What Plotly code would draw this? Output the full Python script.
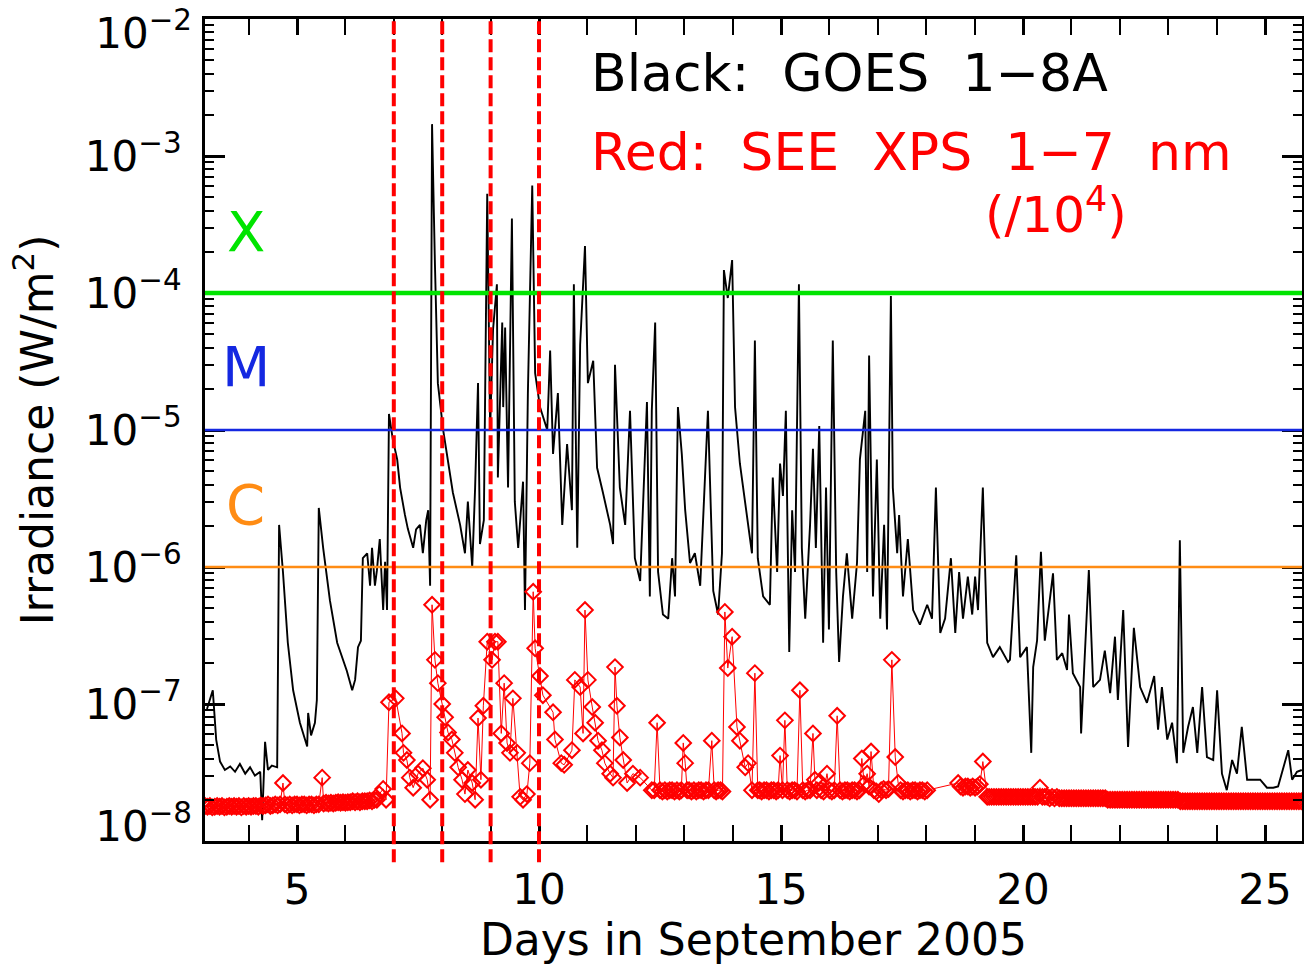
import plotly.graph_objects as go

# ---------------- data ----------------
goes_days = [
    3.14, 3.26, 3.33, 3.41, 3.51, 3.62, 3.72, 3.82, 3.93, 4.03,
    4.13, 4.24, 4.28, 4.32, 4.34, 4.40, 4.48, 4.59, 4.63, 4.71,
    4.81, 4.92, 5.06, 5.21, 5.23, 5.29, 5.37, 5.41, 5.45, 5.54,
    5.68, 5.83, 6.03, 6.14, 6.20, 6.26, 6.32, 6.36, 6.45, 6.51,
    6.55, 6.61, 6.65, 6.71, 6.78, 6.82, 6.86, 6.90, 6.98, 7.07,
    7.13, 7.23, 7.29, 7.40, 7.46, 7.54, 7.60, 7.67, 7.71, 7.75,
    7.79, 7.85, 7.91, 8.02, 8.12, 8.22, 8.37, 8.47, 8.53, 8.62,
    8.68, 8.74, 8.78, 8.86, 8.93, 8.99, 9.05, 9.13, 9.15, 9.24,
    9.26, 9.30, 9.36, 9.44, 9.50, 9.57, 9.67, 9.71, 9.77, 9.86,
    9.92, 10.02, 10.17, 10.23, 10.29, 10.39, 10.48, 10.58, 10.68, 10.72,
    10.79, 10.85, 10.95, 11.01, 11.12, 11.20, 11.32, 11.47, 11.53, 11.57,
    11.67, 11.78, 11.88, 11.98, 12.09, 12.15, 12.23, 12.29, 12.33, 12.40,
    12.46, 12.56, 12.67, 12.75, 12.81, 12.87, 12.95, 13.02, 13.12, 13.22,
    13.33, 13.49, 13.60, 13.70, 13.78, 13.82, 13.90, 13.99, 14.05, 14.15,
    14.30, 14.40, 14.46, 14.52, 14.63, 14.77, 14.83, 14.92, 14.98, 15.04,
    15.10, 15.17, 15.23, 15.29, 15.37, 15.43, 15.50, 15.60, 15.66, 15.72,
    15.79, 15.87, 15.93, 15.99, 16.07, 16.14, 16.20, 16.28, 16.36, 16.47,
    16.57, 16.63, 16.74, 16.78, 16.82, 16.90, 16.98, 17.05, 17.13, 17.19,
    17.27, 17.31, 17.40, 17.44, 17.52, 17.62, 17.73, 17.87, 18.02, 18.12,
    18.20, 18.29, 18.39, 18.51, 18.60, 18.68, 18.76, 18.86, 18.95, 19.01,
    19.07, 19.17, 19.26, 19.38, 19.52, 19.69, 19.73, 19.86, 19.94, 20.08,
    20.17, 20.21, 20.29, 20.37, 20.45, 20.56, 20.62, 20.70, 20.81, 20.91,
    20.95, 21.03, 21.18, 21.20, 21.28, 21.36, 21.45, 21.59, 21.69, 21.80,
    21.90, 21.96, 22.07, 22.13, 22.17, 22.29, 22.42, 22.56, 22.71, 22.79,
    22.87, 22.98, 23.08, 23.18, 23.24, 23.31, 23.41, 23.51, 23.60, 23.70,
    23.80, 23.93, 24.01, 24.11, 24.21, 24.32, 24.42, 24.52, 24.63, 24.75,
    24.90, 25.04, 25.17, 25.27, 25.37, 25.48, 25.56, 25.66, 25.76,
]
goes_flux = [
    9.2e-8, 1.26e-7, 5.5e-8, 3.8e-8, 3.3e-8, 3.5e-8, 3.2e-8, 3.65e-8, 3.1e-8, 3.45e-8,
    3.0e-8, 3.2e-8, 1.42e-8, 3.3e-8, 5.3e-8, 3.3e-8, 3.55e-8, 3.45e-8, 2.03e-6, 9.2e-7,
    2.8e-7, 1.26e-7, 7.3e-8, 4.9e-8, 8.6e-8, 5.9e-8, 7.3e-8, 1.07e-7, 2.7e-6, 1.38e-6,
    5.7e-7, 2.8e-7, 1.74e-7, 1.26e-7, 1.5e-7, 2.6e-7, 2.9e-7, 1.16e-6, 1.26e-6, 7.3e-7,
    1.38e-6, 7.3e-7, 9.4e-7, 1.6e-6, 4.85e-7, 1.09e-6, 4.85e-7, 1.31e-5, 8.5e-6, 6.1e-6,
    3.8e-6, 2.4e-6, 1.9e-6, 1.38e-6, 1.88e-6, 2.03e-6, 1.26e-6, 2.2e-6, 2.6e-6, 7.3e-7,
    1.71e-3, 1.6e-4, 2.2e-5, 1.0e-5, 5.7e-6, 3.5e-6, 2.03e-6, 1.26e-6, 3.0e-6, 1.0e-6,
    3.8e-6, 2.2e-5, 1.47e-6, 2.2e-6, 5.3e-4, 1.0e-5, 5.4e-5, 1.16e-4, 4.5e-6, 6.1e-5,
    1.47e-5, 5.6e-5, 3.8e-6, 3.5e-4, 3.0e-6, 1.38e-6, 4.2e-6, 4.85e-7, 1.86e-5, 6.1e-4,
    2.6e-5, 1.47e-5, 1.0e-5, 3.8e-5, 6.7e-6, 1.86e-5, 2.03e-6, 7.9e-6, 2.6e-6, 1.16e-4,
    1.38e-6, 4.2e-5, 2.2e-4, 2.2e-5, 3.2e-5, 5.3e-6, 3.5e-6, 2.03e-6, 1.47e-6, 3.0e-5,
    3.8e-6, 2.03e-6, 1.38e-5, 1.16e-6, 7.9e-7, 3.3e-6, 1.6e-5, 6.1e-7, 1.38e-5, 6.1e-5,
    9.2e-7, 4.5e-7, 4.2e-7, 1.16e-6, 6.1e-7, 1.47e-5, 6.7e-6, 2.6e-6, 1.07e-6, 1.26e-6,
    7.3e-7, 1.38e-5, 6.7e-7, 4.5e-7, 1.26e-6, 1.47e-4, 9.2e-5, 1.74e-4, 1.47e-5, 5.7e-6,
    2.4e-6, 1.26e-6, 4.5e-5, 1.16e-6, 6.1e-7, 5.3e-7, 4.5e-6, 9.2e-7, 5.7e-6, 3.3e-6,
    1.38e-5, 2.4e-7, 2.6e-6, 9.2e-7, 1.16e-4, 1.38e-6, 4.2e-7, 2.03e-6, 7.3e-6, 1.38e-6,
    1.07e-5, 2.8e-7, 3.8e-6, 3.5e-7, 4.5e-5, 9.2e-7, 2.03e-7, 6.1e-7, 1.26e-6, 4.2e-7,
    1.07e-6, 6.1e-6, 1.38e-5, 9.2e-7, 3.5e-5, 6.1e-7, 6.1e-6, 4.2e-7, 2.03e-6, 3.5e-7,
    9.5e-5, 3.8e-6, 1.26e-6, 2.4e-6, 6.1e-7, 1.6e-6, 4.85e-7, 3.8e-7, 5.3e-7, 4.2e-7,
    3.8e-6, 3.3e-7, 4.2e-7, 1.16e-6, 3.3e-7, 9.2e-7, 4.2e-7, 8.5e-7, 4.5e-7, 8.5e-7,
    4.85e-7, 3.8e-6, 2.8e-7, 2.2e-7, 2.6e-7, 2.03e-7, 2.1e-7, 1.22e-6, 2.2e-7, 2.6e-7,
    4.4e-8, 1.86e-7, 2.9e-7, 1.29e-6, 2.9e-7, 5.7e-7, 9.0e-7, 2.1e-7, 2.35e-7, 1.77e-7,
    4.5e-7, 1.68e-7, 1.33e-7, 6.1e-8, 2.45e-7, 9.5e-7, 1.33e-7, 1.5e-7, 2.45e-7, 1.2e-7,
    3.1e-7, 1.07e-7, 4.85e-7, 1.26e-7, 4.85e-8, 3.6e-7, 1.33e-7, 1.02e-7, 1.6e-7, 6.5e-8,
    1.33e-7, 5.5e-8, 7.3e-8, 3.7e-8, 1.57e-6, 4.4e-8, 6.8e-8, 9.5e-8, 4.4e-8, 1.33e-7,
    4.1e-8, 3.9e-8, 1.26e-7, 3.1e-8, 2.35e-8, 3.9e-8, 3.1e-8, 6.8e-8, 2.8e-8, 2.8e-8,
    2.8e-8, 2.45e-8, 2.45e-8, 2.5e-8, 3.3e-8, 4.6e-8, 2.8e-8, 3.2e-8, 3.3e-8,
]

xps_days = [
    3.10, 3.15, 3.20, 3.25, 3.30, 3.35, 3.40, 3.45, 3.50, 3.55,
    3.60, 3.65, 3.70, 3.75, 3.80, 3.85, 3.90, 3.95, 4.00, 4.05,
    4.10, 4.15, 4.20, 4.25, 4.30, 4.35, 4.40, 4.45, 4.50, 4.55,
    4.60, 4.65, 4.71, 4.75, 4.80, 4.85, 4.90, 4.95, 5.00, 5.05,
    5.10, 5.15, 5.20, 5.25, 5.30, 5.35, 5.40, 5.45, 5.52, 5.55,
    5.60, 5.65, 5.70, 5.75, 5.80, 5.85, 5.90, 5.95, 6.00, 6.05,
    6.10, 6.15, 6.20, 6.25, 6.30, 6.35, 6.40, 6.45, 6.50, 6.55,
    6.60, 6.65, 6.70, 6.78, 6.84, 6.90,
    7.04, 7.17, 7.20, 7.27, 7.33, 7.40, 7.50, 7.60, 7.69, 7.75,
    7.79, 7.85, 7.91, 8.00, 8.06, 8.12, 8.20, 8.26, 8.33, 8.41,
    8.47, 8.53, 8.62, 8.68, 8.74, 8.80, 8.85, 8.93, 9.03, 9.09,
    9.15, 9.22, 9.28, 9.34, 9.40, 9.46, 9.55, 9.61, 9.67, 9.75,
    9.81, 9.88, 9.92, 10.02, 10.08, 10.29, 10.33, 10.46, 10.52, 10.68,
    10.74, 10.85, 10.91, 10.95, 11.01, 11.10, 11.16, 11.22, 11.30, 11.36,
    11.47, 11.53, 11.57, 11.61, 11.67, 11.74, 11.82, 11.94, 12.09, 12.33,
    12.38, 12.44, 12.50, 12.55, 12.60, 12.65, 12.70, 12.75, 12.80, 12.85,
    12.90, 12.94, 12.98, 13.02, 13.06, 13.10, 13.15, 13.20, 13.25, 13.30,
    13.35, 13.40, 13.45, 13.50, 13.57, 13.62, 13.66, 13.70, 13.75, 13.79,
    13.84, 13.90, 13.99, 14.09, 14.15, 14.26, 14.32, 14.40, 14.46, 14.52,
    14.56, 14.60, 14.65, 14.70, 14.75, 14.80, 14.85, 14.90, 14.94, 14.98,
    15.03, 15.08, 15.13, 15.18, 15.23, 15.28, 15.33, 15.39, 15.45, 15.50,
    15.55, 15.60, 15.66, 15.70, 15.74, 15.78, 15.83, 15.88, 15.95, 16.00,
    16.05, 16.10, 16.16, 16.22, 16.27, 16.32, 16.37, 16.42, 16.47, 16.52,
    16.57, 16.62, 16.67, 16.72, 16.78, 16.82, 16.86, 16.92, 16.97, 17.02,
    17.07, 17.12, 17.17, 17.22, 17.29, 17.36, 17.42, 17.47, 17.52, 17.57,
    17.62, 17.67, 17.72, 17.77, 17.82, 17.87, 17.92, 17.97, 18.02, 18.66,
    18.71, 18.76, 18.81, 18.86, 18.91, 18.96, 19.01, 19.06, 19.11, 19.17,
    19.26, 19.30, 19.35, 19.40, 19.45, 19.50, 19.55, 19.60, 19.65, 19.70,
    19.75, 19.80, 19.85, 19.90, 19.95, 20.00, 20.05, 20.10, 20.15, 20.20,
    20.25, 20.30, 20.35, 20.40, 20.45, 20.50, 20.55, 20.60, 20.65, 20.70,
    20.75, 20.80, 20.85, 20.90, 20.95, 21.00, 21.05, 21.10, 21.15, 21.20,
    21.25, 21.30, 21.35, 21.40, 21.45, 21.50, 21.55, 21.60, 21.65, 21.70,
    21.75, 21.80, 21.85, 21.90, 21.95, 22.00, 22.05, 22.10, 22.15, 22.20,
    22.25, 22.30, 22.35, 22.40, 22.45, 22.50, 22.55, 22.60, 22.65, 22.70,
    22.75, 22.80, 22.85, 22.90, 22.95, 23.00, 23.05, 23.10, 23.15, 23.20,
    23.25, 23.30, 23.35, 23.40, 23.45, 23.50, 23.55, 23.60, 23.65, 23.70,
    23.75, 23.80, 23.85, 23.90, 23.95, 24.00, 24.05, 24.10, 24.15, 24.20,
    24.25, 24.30, 24.35, 24.40, 24.45, 24.50, 24.55, 24.60, 24.65, 24.70,
    24.75, 24.80, 24.85, 24.90, 24.95, 25.00, 25.05, 25.10, 25.15, 25.20,
    25.25, 25.30, 25.35, 25.40, 25.45, 25.50, 25.55, 25.60, 25.65, 25.70,
    25.75,
]
xps_flux = [
    1.8e-8, 1.78e-8, 1.8e-8, 1.76e-8, 1.78e-8, 1.8e-8, 1.78e-8, 1.8e-8, 1.76e-8, 1.78e-8,
    1.8e-8, 1.78e-8, 1.8e-8, 1.78e-8, 1.8e-8, 1.76e-8, 1.8e-8, 1.78e-8, 1.8e-8, 1.78e-8,
    1.8e-8, 1.8e-8, 1.78e-8, 1.82e-8, 1.8e-8, 1.82e-8, 1.85e-8, 1.8e-8, 1.82e-8, 1.85e-8,
    1.82e-8, 1.85e-8, 2.65e-8, 1.85e-8, 1.82e-8, 1.85e-8, 1.82e-8, 1.85e-8, 1.85e-8, 1.82e-8,
    1.85e-8, 1.85e-8, 1.82e-8, 1.85e-8, 1.85e-8, 1.82e-8, 1.85e-8, 1.85e-8, 2.9e-8, 1.88e-8,
    1.9e-8, 1.88e-8, 1.9e-8, 1.88e-8, 1.9e-8, 1.92e-8, 1.9e-8, 1.92e-8, 1.9e-8, 1.92e-8,
    1.92e-8, 1.95e-8, 1.92e-8, 1.95e-8, 1.92e-8, 1.95e-8, 1.95e-8, 1.95e-8, 1.98e-8, 1.95e-8,
    2.0e-8, 2.0e-8, 2.2e-8, 2.4e-8, 2.0e-8, 1.03e-7,
    1.1e-7, 6.1e-8, 4.4e-8, 3.9e-8, 2.9e-8, 2.45e-8, 3.1e-8, 3.4e-8, 2.8e-8, 2.0e-8,
    5.3e-7, 2.1e-7, 1.42e-7, 1.0e-7, 8.0e-8, 6.2e-8, 5.5e-8, 4.4e-8, 3.45e-8, 2.8e-8,
    2.2e-8, 3.3e-8, 2.65e-8, 2.0e-8, 7.9e-8, 2.8e-8, 9.7e-8, 2.85e-7, 2.1e-7, 2.85e-7,
    2.85e-7, 6.1e-8, 1.42e-7, 5.2e-8, 4.4e-8, 1.1e-7, 4.4e-8, 2.1e-8, 2.0e-8, 2.2e-8,
    3.7e-8, 6.6e-7, 2.55e-7, 1.6e-7, 1.16e-7, 8.7e-8, 5.5e-8, 3.7e-8, 3.6e-8, 4.6e-8,
    1.5e-7, 1.33e-7, 6.1e-8, 4.85e-7, 1.5e-7, 9.5e-8, 7.3e-8, 5.4e-8, 4.6e-8, 3.7e-8,
    3.1e-8, 2.9e-8, 1.86e-7, 9.7e-8, 5.7e-8, 3.9e-8, 2.65e-8, 3.1e-8, 2.9e-8, 2.35e-8,
    2.35e-8, 7.3e-8, 2.35e-8, 2.3e-8, 2.35e-8, 2.3e-8, 2.35e-8, 2.35e-8, 2.3e-8, 2.35e-8,
    2.3e-8, 2.35e-8, 5.2e-8, 3.7e-8, 2.35e-8, 2.35e-8, 2.3e-8, 2.35e-8, 2.3e-8, 2.35e-8,
    2.35e-8, 2.3e-8, 2.35e-8, 2.35e-8, 5.4e-8, 2.35e-8, 2.3e-8, 2.35e-8, 2.35e-8, 2.3e-8,
    4.7e-7, 1.83e-7, 3.1e-7, 6.8e-8, 5.4e-8, 3.45e-8, 3.7e-8, 2.35e-8, 1.68e-7, 2.35e-8,
    2.35e-8, 2.3e-8, 2.35e-8, 2.35e-8, 2.3e-8, 2.35e-8, 2.35e-8, 2.3e-8, 2.35e-8, 4.2e-8,
    2.35e-8, 7.6e-8, 2.35e-8, 2.3e-8, 2.35e-8, 2.35e-8, 2.3e-8, 1.26e-7, 2.35e-8, 2.3e-8,
    2.35e-8, 2.35e-8, 6.1e-8, 2.8e-8, 2.35e-8, 2.65e-8, 2.35e-8, 2.3e-8, 3.1e-8, 2.35e-8,
    2.3e-8, 2.35e-8, 8.2e-8, 2.35e-8, 2.3e-8, 2.35e-8, 2.35e-8, 2.3e-8, 2.35e-8, 2.35e-8,
    2.3e-8, 2.35e-8, 4.0e-8, 2.6e-8, 3.1e-8, 2.5e-8, 4.5e-8, 2.35e-8, 2.3e-8, 2.2e-8,
    2.35e-8, 2.4e-8, 2.35e-8, 2.4e-8, 2.1e-7, 4.1e-8, 2.65e-8, 2.35e-8, 2.3e-8, 2.35e-8,
    2.35e-8, 2.3e-8, 2.35e-8, 2.35e-8, 2.3e-8, 2.35e-8, 2.35e-8, 2.3e-8, 2.35e-8, 2.65e-8,
    2.5e-8, 2.45e-8, 2.5e-8, 2.5e-8, 2.45e-8, 2.5e-8, 2.45e-8, 2.5e-8, 2.6e-8, 3.8e-8,
    2.1e-8, 2.1e-8, 2.1e-8, 2.1e-8, 2.1e-8, 2.1e-8, 2.1e-8, 2.1e-8, 2.1e-8, 2.1e-8,
    2.1e-8, 2.1e-8, 2.1e-8, 2.1e-8, 2.1e-8, 2.1e-8, 2.1e-8, 2.1e-8, 2.1e-8, 2.1e-8,
    2.1e-8, 2.1e-8, 2.45e-8, 2.1e-8, 2.1e-8, 2.1e-8, 2.05e-8, 2.1e-8, 2.05e-8, 2.1e-8,
    2.05e-8, 2.05e-8, 2.05e-8, 2.05e-8, 2.05e-8, 2.05e-8, 2.05e-8, 2.05e-8, 2.05e-8, 2.05e-8,
    2.05e-8, 2.05e-8, 2.05e-8, 2.05e-8, 2.05e-8, 2.05e-8, 2.05e-8, 2.05e-8, 2.05e-8, 2.05e-8,
    2.0e-8, 2.0e-8, 2.0e-8, 2.0e-8, 2.0e-8, 2.0e-8, 2.0e-8, 2.0e-8, 2.0e-8, 2.0e-8,
    2.0e-8, 2.0e-8, 2.0e-8, 2.0e-8, 2.0e-8, 2.0e-8, 2.0e-8, 2.0e-8, 2.0e-8, 2.0e-8,
    2.0e-8, 2.0e-8, 2.0e-8, 2.0e-8, 2.0e-8, 2.0e-8, 2.0e-8, 2.0e-8, 2.0e-8, 2.0e-8,
    1.95e-8, 1.95e-8, 1.95e-8, 1.95e-8, 1.95e-8, 1.95e-8, 1.95e-8, 1.95e-8, 1.95e-8, 1.95e-8,
    1.95e-8, 1.95e-8, 1.95e-8, 1.95e-8, 1.95e-8, 1.95e-8, 1.95e-8, 1.95e-8, 1.95e-8, 1.95e-8,
    1.95e-8, 1.95e-8, 1.95e-8, 1.95e-8, 1.95e-8, 1.95e-8, 1.95e-8, 1.95e-8, 1.95e-8, 1.95e-8,
    1.95e-8, 1.95e-8, 1.95e-8, 1.95e-8, 1.95e-8, 1.95e-8, 1.95e-8, 1.95e-8, 1.95e-8, 1.95e-8,
    1.95e-8, 1.95e-8, 1.95e-8, 1.95e-8, 1.95e-8, 1.95e-8, 1.95e-8, 1.95e-8, 1.95e-8, 1.95e-8,
    1.95e-8,
]

assert len(goes_days) == len(goes_flux), (len(goes_days), len(goes_flux))
assert len(xps_days) == len(xps_flux), (len(xps_days), len(xps_flux))

class_levels = [1e-4, 1e-5, 1e-6]
class_names = ["X", "M", "C"]
class_colors = ["rgb(0,228,0)", "rgb(20,40,225)", "rgb(255,140,20)"]
class_widths = [4.5, 2.5, 2.5]
marked_days = [7, 8, 9, 10]

x_major = [5, 10, 15, 20, 25]
x_minor = list(range(4, 26))
y_exps = [-8, -7, -6, -5, -4, -3, -2]

FONT = "DejaVu Sans"
NB = "\u00a0"
Y_RANGE = [-8.0, -1.9995]


def power_label(e):
    return f"10<sup>−{-e}</sup>"


# ---------------- figure ----------------
fig = go.Figure()

fig.add_trace(go.Scatter(
    x=goes_days, y=goes_flux, mode="lines",
    line=dict(color="black", width=1.9), showlegend=False, hoverinfo="skip"))

fig.add_trace(go.Scatter(
    x=xps_days, y=xps_flux, mode="lines+markers",
    line=dict(color="rgb(255,0,0)", width=1),
    marker=dict(symbol="diamond-open", size=12, color="rgb(255,0,0)",
                line=dict(width=2, color="rgb(255,0,0)")),
    showlegend=False, hoverinfo="skip"))

# invisible carriers for the two edge-label axes (top and bottom decade labels)
for ax in ("y2", "y3"):
    fig.add_trace(go.Scatter(x=goes_days[:1], y=goes_flux[:1], yaxis=ax, mode="markers",
                             marker=dict(opacity=0), showlegend=False, hoverinfo="skip"))

for lvl, col, w in zip(class_levels, class_colors, class_widths):
    fig.add_shape(type="line", xref="x domain", yref="y", x0=0, x1=1,
                  y0=lvl, y1=lvl, line=dict(color=col, width=w), layer="above")

for d in marked_days:
    fig.add_shape(type="line", xref="x", yref="paper", x0=d, x1=d,
                  y0=-0.026, y1=1.0,
                  line=dict(color="rgb(255,0,0)", width=4, dash="13px,5px"),
                  layer="above")

# class letters
class_pos_y = [0.741, 0.577, 0.409]
for name, col, py in zip(class_names, class_colors, class_pos_y):
    fig.add_annotation(text=name, xref="paper", yref="paper", x=0.037, y=py,
                       showarrow=False, xanchor="center", yanchor="middle",
                       font=dict(family=FONT, size=56, color=col))

fig.add_annotation(text=f"Black:{NB}{NB}GOES{NB}{NB}1−8A", xref="paper", yref="paper",
                   x=0.350, y=0.934, xanchor="left", yanchor="middle", showarrow=False,
                   font=dict(family=FONT, size=52, color="black"))
fig.add_annotation(text=f"Red:{NB}{NB}SEE{NB}{NB}XPS{NB}{NB}1−7{NB}{NB}nm", xref="paper",
                   yref="paper", x=0.350, y=0.838, xanchor="left", yanchor="middle",
                   showarrow=False, font=dict(family=FONT, size=52, color="rgb(255,0,0)"))
fig.add_annotation(text="(/10<sup>4</sup>)", xref="paper", yref="paper",
                   x=0.776, y=0.766, xanchor="center", yanchor="middle", showarrow=False,
                   font=dict(family=FONT, size=50, color="rgb(255,0,0)"))

fig.update_xaxes(
    range=[3.099, 25.764], showgrid=False, zeroline=False,
    showline=True, linecolor="black", linewidth=3, mirror="allticks",
    tickmode="array", tickvals=x_major, ticktext=[str(v) for v in x_major],
    ticks="inside", ticklen=16, tickwidth=2.5, tickcolor="black",
    minor=dict(tickmode="array", tickvals=x_minor, ticks="inside", ticklen=8,
               tickwidth=2, tickcolor="black", showgrid=False),
    tickfont=dict(family=FONT, size=42, color="black"), ticklabelstandoff=10,
    title=dict(text="Days in September 2005", standoff=10,
               font=dict(family=FONT, size=44, color="black")),
    automargin=False,
)

minor_y = [k * 10.0 ** e for e in y_exps[:-1] for k in range(2, 10)]
inner_text = ["" if e in (y_exps[0], y_exps[-1]) else power_label(e) for e in y_exps]
label_font = dict(family=FONT, size=42, color="black")

fig.update_layout(
    width=1304, height=968,
    margin=dict(l=205, r=2, t=19, b=127),
    paper_bgcolor="white", plot_bgcolor="white",
    showlegend=False,
    yaxis=dict(
        type="log", range=Y_RANGE, showgrid=False, zeroline=False,
        showline=True, linecolor="black", linewidth=3, mirror="allticks",
        tickmode="array", tickvals=[10.0 ** e for e in y_exps], ticktext=inner_text,
        ticks="inside", ticklen=20, tickwidth=2.5, tickcolor="black",
        minor=dict(tickmode="array", tickvals=minor_y, ticks="inside", ticklen=9,
                   tickwidth=2, tickcolor="black", showgrid=False),
        tickfont=label_font, ticklabelstandoff=12,
        title=dict(text="Irradiance (W/m<sup>2</sup>)", standoff=18,
                   font=dict(family=FONT, size=44, color="black")),
        automargin=False,
    ),
    yaxis2=dict(
        type="log", range=Y_RANGE, overlaying="y", anchor="x", side="left",
        showgrid=False, zeroline=False, showline=False, ticks="",
        tickmode="array", tickvals=[10.0 ** y_exps[-1]],
        ticktext=[power_label(y_exps[-1])],
        tickfont=label_font, ticklabelstandoff=12, ticklabelshift=14,
        ticklabeloverflow="allow", automargin=False,
    ),
    yaxis3=dict(
        type="log", range=Y_RANGE, overlaying="y", anchor="x", side="left",
        showgrid=False, zeroline=False, showline=False, ticks="",
        tickmode="array", tickvals=[10.0 ** y_exps[0]],
        ticktext=[power_label(y_exps[0])],
        tickfont=label_font, ticklabelstandoff=12, ticklabelshift=-15,
        ticklabeloverflow="allow", automargin=False,
    ),
)

fig.write_html("out.html")
